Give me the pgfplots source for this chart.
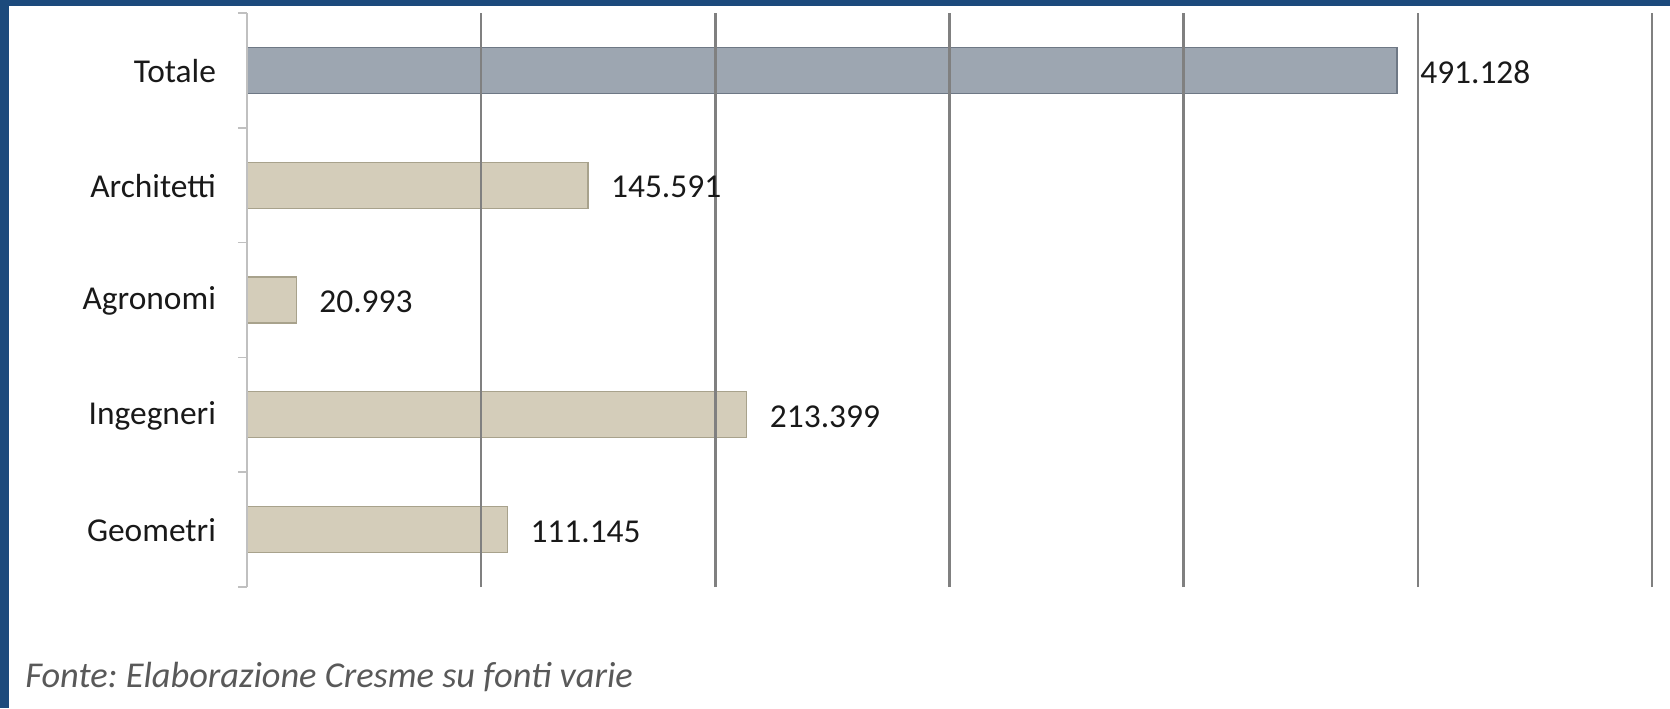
\documentclass[border=0pt]{standalone}
\usepackage{fontspec}
\setmainfont{Carlito}
\usepackage{pgfplots}
\pgfplotsset{compat=1.18}
\definecolor{frameblue}{HTML}{1C4A7C}
\definecolor{totfill}{HTML}{9DA6B1}
\definecolor{totdraw}{HTML}{6E7885}
\definecolor{catfill}{HTML}{D4CDBA}
\definecolor{catdraw}{HTML}{A8A28C}
\definecolor{gridgray}{HTML}{808080}
\definecolor{axisgray}{HTML}{C0C0C0}
\definecolor{footgray}{HTML}{595959}
\newcommand{\lbl}{\fontsize{16.7}{19}\selectfont}
\frenchspacing
\begin{document}
\begin{tikzpicture}
\useasboundingbox (0,0) rectangle (835pt,354pt);
\fill[frameblue] (0,351pt) rectangle (835pt,354pt);
\fill[frameblue] (0,0) rectangle (4.5pt,354pt);
\begin{axis}[
 at={(123.5pt,60.5pt)}, anchor=south west, scale only axis,
 width=702.5pt, height=287pt,
 xmin=0, xmax=600000, ymin=-0.5, ymax=4.5,
 xbar, bar width=23pt, bar shift=0pt,
 axis y line*=left, axis x line*=bottom,
 x axis line style={draw=none},
 y axis line style={draw=axisgray, line width=0.8pt},
 scaled x ticks=false,
 xtick={100000,200000,300000,400000,500000,600000}, xticklabels={},
 xmajorgrids, major grid style={draw=gridgray, line width=1.3pt},
 ytick={0,1,2,3,4}, yticklabels={Geometri,Ingegneri,Agronomi,Architetti,Totale},
 minor ytick={-0.5,0.5,1.5,2.5,3.5,4.5},
 major tick length=0pt, minor tick length=4.5pt, tick align=outside,
 minor tick style={draw=axisgray, line width=0.8pt},
 yticklabel style={font=\lbl, text=black!90, xshift=-12pt, yshift=-0.5pt},
 axis on top,
 nodes near coords, point meta=explicit symbolic,
 nodes near coords align={horizontal},
 every node near coord/.append style={font=\lbl, text=black!90, anchor=west, xshift=8pt, yshift=-1pt},
 clip=false,
]
\addplot[fill=totfill, draw=totdraw, line width=0.6pt] coordinates {(491128,4) [491.128]};
\addplot[fill=catfill, draw=catdraw, line width=0.6pt] coordinates {(111145,0) [111.145] (213399,1) [213.399] (20993,2) [20.993] (145591,3) [145.591]};
\end{axis}
\node[anchor=base west, font=\fontsize{18.2}{20}\selectfont\itshape, text=footgray, inner sep=0pt] at (12.5pt,10.5pt) {Fonte: Elaborazione Cresme su fonti varie};
\end{tikzpicture}
\end{document}
